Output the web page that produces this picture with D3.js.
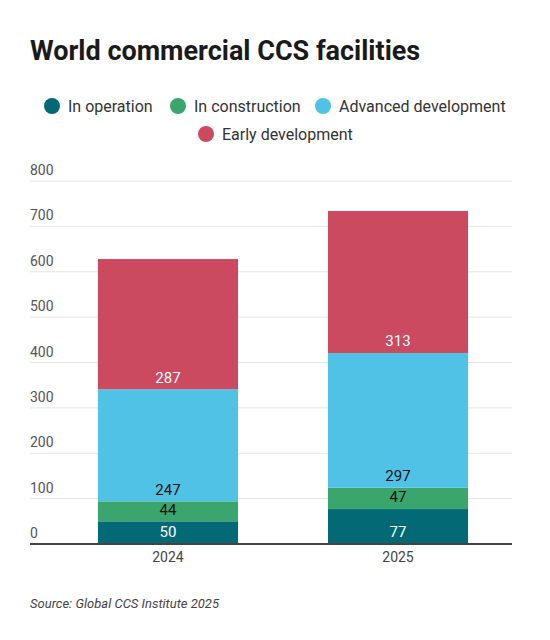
<!DOCTYPE html><html><head><script src="https://cdn.jsdelivr.net/npm/d3@7"></script>
<style>body{margin:0;background:#fff;font-family:Roboto,sans-serif}</style></head><body><svg id="c" width="550" height="640"></svg>
<script>
const years=["2024","2025"];
const seriesNames=["In operation","In construction","Advanced development","Early development"];
const inOperation=[50,77];
const inConstruction=[44,47];
const advancedDev=[247,297];
const earlyDev=[287,313];
const yTicks=[0,100,200,300,400,500,600,700,800];
const colors=["#036975","#3aa66e","#50c2e6","#cb4a5f"];
const labelColors=["#fff","#111","#111","#fff"];
const vals=[inOperation,inConstruction,advancedDev,earlyDev];
const svg=d3.select("#c");
svg.append("text").attr("x",30).attr("y",60).attr("font-size",27).attr("font-weight",700).attr("fill","#1a1a1a").text("World commercial CCS facilities");
const leg=[[0,44,106],[1,170,106],[2,315,106],[3,198,134]];
leg.forEach(([i,x,y])=>{svg.append("circle").attr("cx",x+8).attr("cy",y).attr("r",8).attr("fill",colors[i]);
svg.append("text").attr("x",x+24).attr("y",y+5.5).attr("font-size",16).attr("fill","#333").text(seriesNames[i]);});
const y=d3.scaleLinear().domain([0,800]).range([544,181]);
const x=d3.scaleBand().domain(years).range([54,512]).paddingInner(0.391).paddingOuter(0.191);
yTicks.forEach(t=>{ if(t>0) svg.append("line").attr("x1",30).attr("x2",512).attr("y1",y(t)).attr("y2",y(t)).attr("stroke","#e6e6e6");
svg.append("text").attr("x",30).attr("y",y(t)-6).attr("font-size",14).attr("fill","#555").text(t);});
years.forEach((yr,j)=>{let cum=0;
vals.forEach((s,i)=>{const v=s[j];const b=y(cum),t=y(cum+v);
svg.append("rect").attr("x",x(yr)).attr("width",x.bandwidth()).attr("y",t).attr("height",b-t).attr("fill",colors[i]);
svg.append("text").attr("x",x(yr)+x.bandwidth()/2).attr("y",b-12).attr("dy","0.35em").attr("text-anchor","middle").attr("font-size",15).attr("fill",labelColors[i]).text(v);
cum+=v;});
svg.append("text").attr("x",x(yr)+x.bandwidth()/2).attr("y",562).attr("text-anchor","middle").attr("font-size",14).attr("fill","#444").text(yr);});
svg.append("line").attr("x1",30).attr("x2",512).attr("y1",544).attr("y2",544).attr("stroke","#444").attr("stroke-width",2);
svg.append("text").attr("x",30).attr("y",608).attr("font-size",13).attr("font-style","italic").attr("fill","#444").text("Source: Global CCS Institute 2025");
</script></body></html>
